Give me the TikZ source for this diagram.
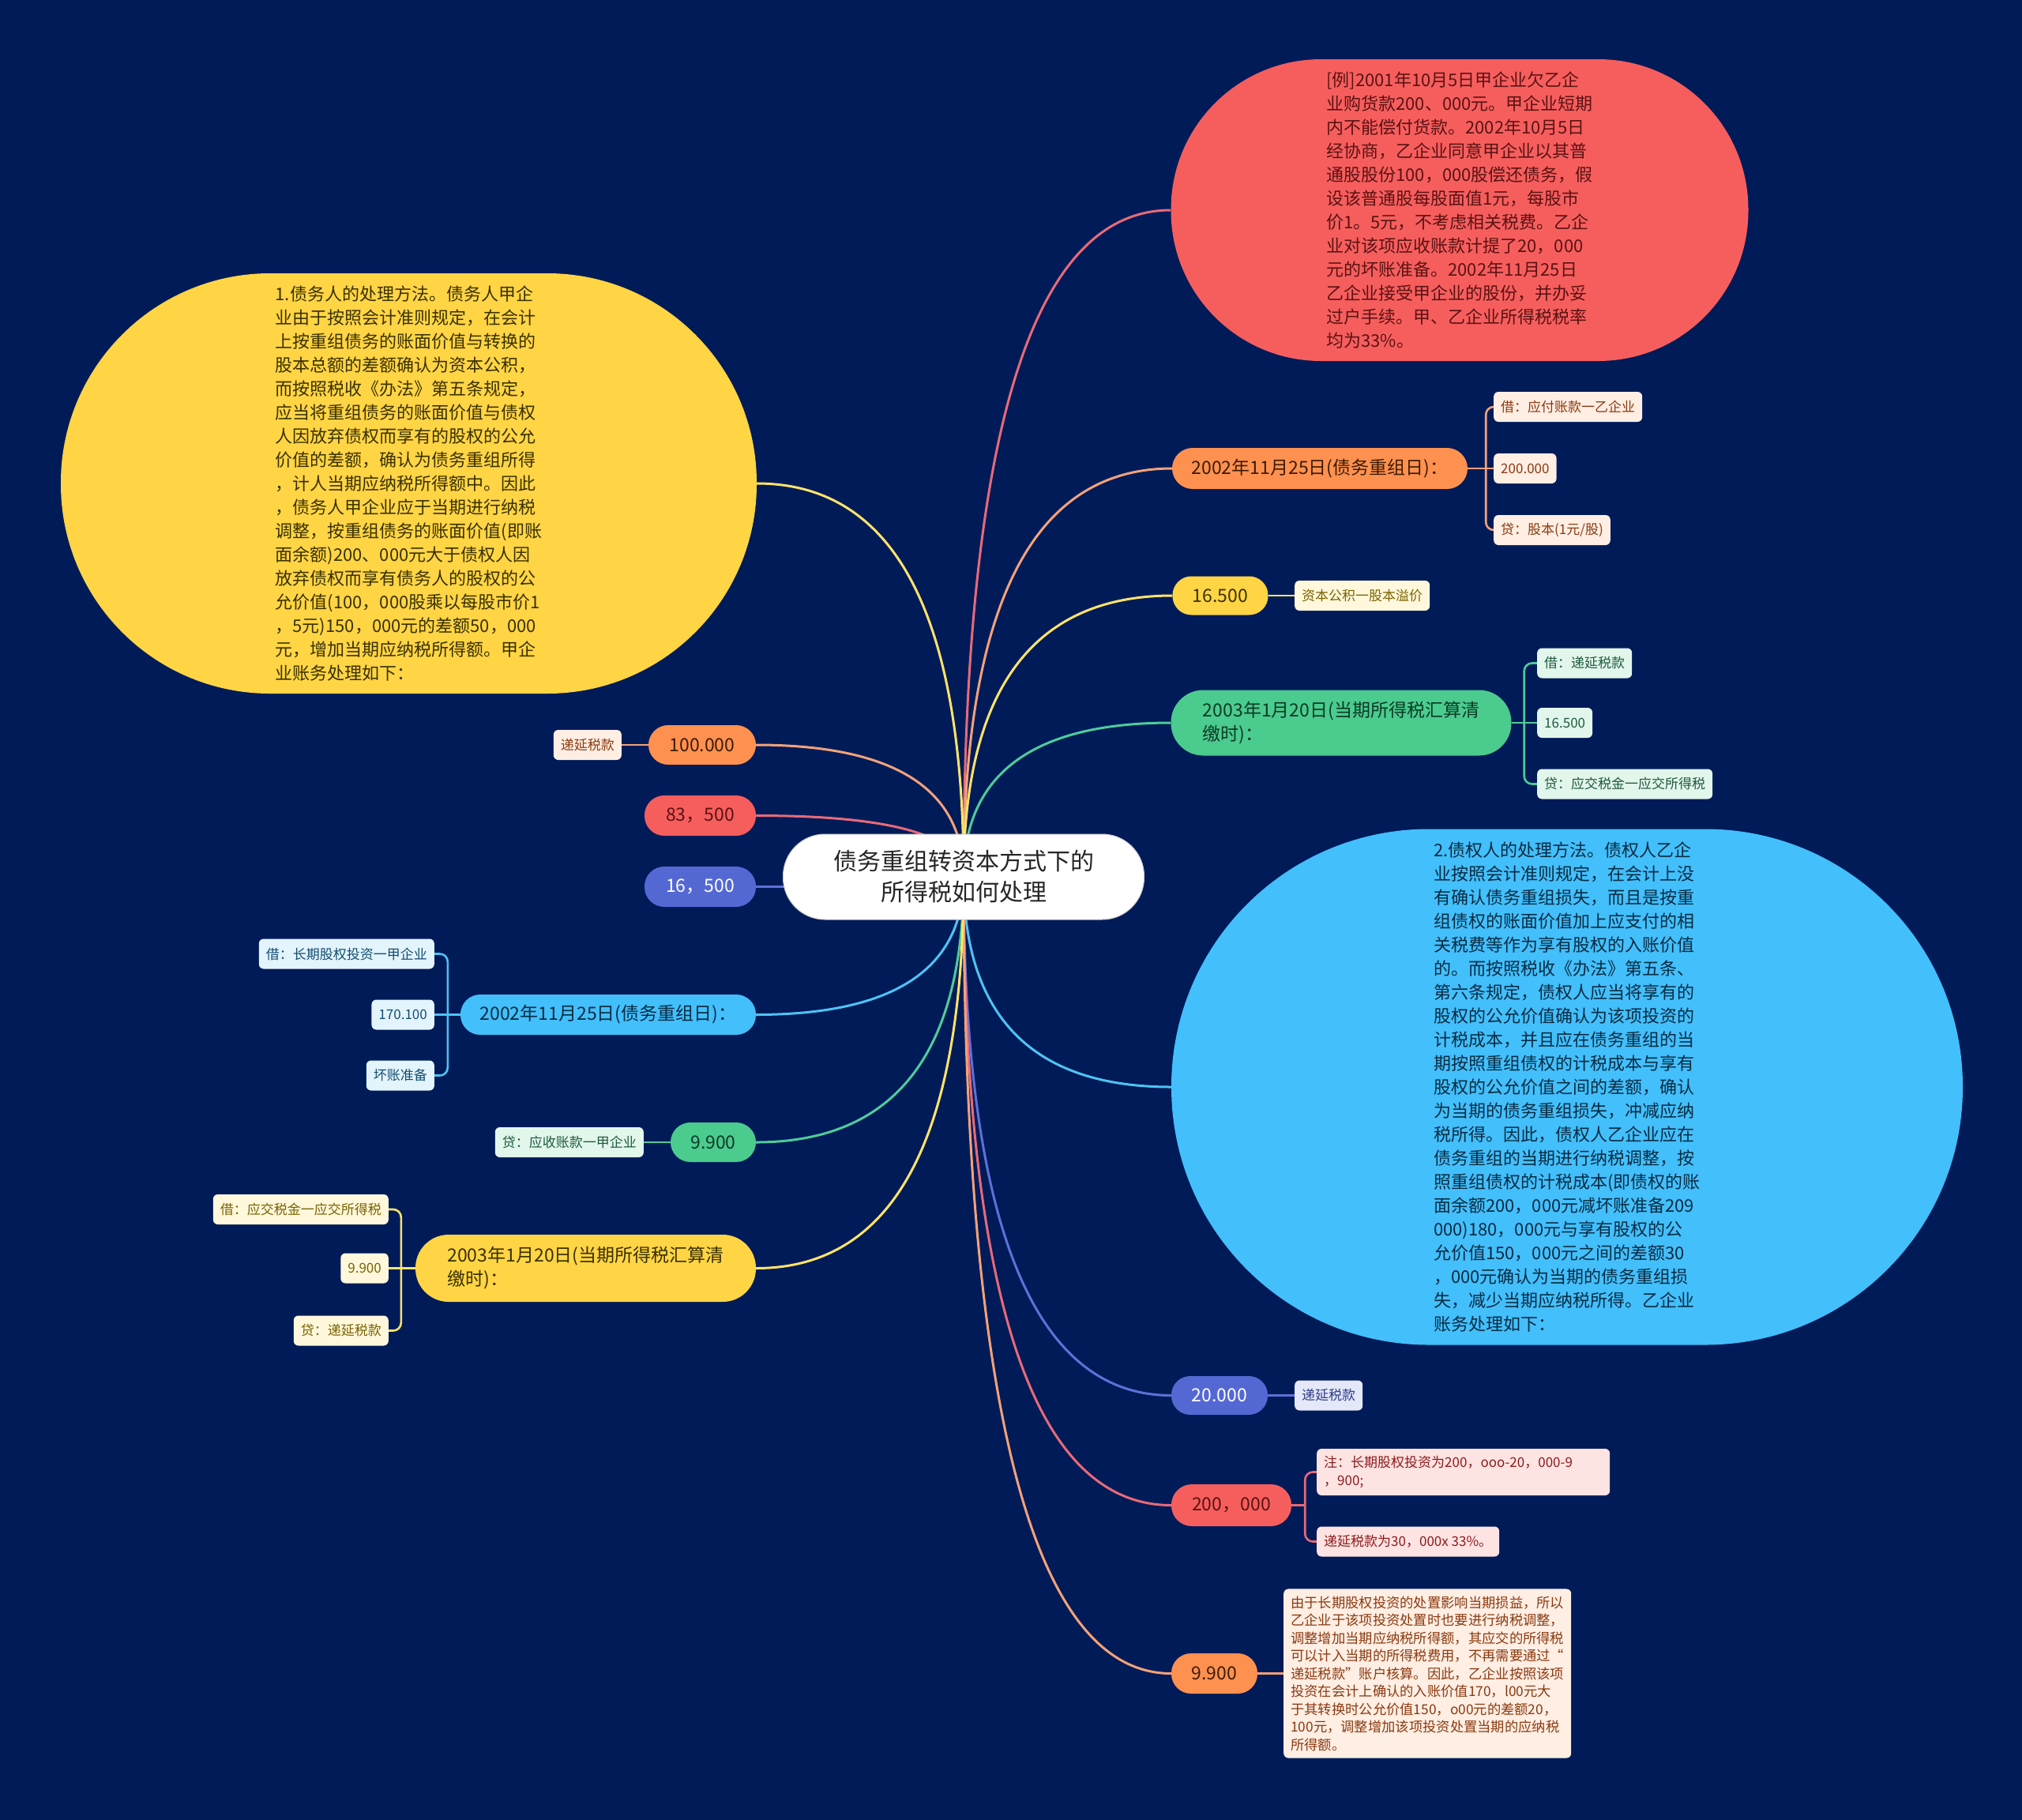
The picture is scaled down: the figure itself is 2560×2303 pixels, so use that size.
\documentclass[tikz,border=0pt]{standalone}
\usepackage{fontspec}
\setmainfont{Noto Sans CJK SC}
\usetikzlibrary{calc,backgrounds}
\definecolor{bg}{HTML}{011B58}
\definecolor{redc}{HTML}{F65E5E}
\definecolor{orangec}{HTML}{FE9150}
\definecolor{yellowc}{HTML}{FFD545}
\definecolor{greenc}{HTML}{4BCB8E}
\definecolor{bluec}{HTML}{43BFFB}
\definecolor{indigoc}{HTML}{5468D4}
\definecolor{redl}{HTML}{E86A78}
\definecolor{orangel}{HTML}{F3A27A}
\definecolor{yellowl}{HTML}{FFE36A}
\definecolor{greenl}{HTML}{4FCB9A}
\definecolor{bluel}{HTML}{4EC3F3}
\definecolor{indigol}{HTML}{5E70D8}
\definecolor{redt}{HTML}{5A1212}
\definecolor{oranget}{HTML}{3D1B06}
\definecolor{yellowt}{HTML}{3A3000}
\definecolor{greent}{HTML}{0C3A25}
\definecolor{bluet}{HTML}{082B42}
\definecolor{orangef}{HTML}{FFEEE3}
\definecolor{orangeft}{HTML}{8A3A10}
\definecolor{yellowf}{HTML}{FFF8DC}
\definecolor{yellowft}{HTML}{7A6200}
\definecolor{greenf}{HTML}{E2F6EC}
\definecolor{greenft}{HTML}{1F5A3D}
\definecolor{bluef}{HTML}{E3F4FD}
\definecolor{blueft}{HTML}{134D70}
\definecolor{indigof}{HTML}{E4E8F8}
\definecolor{indigoft}{HTML}{2E3C88}
\definecolor{redf}{HTML}{FEE3E3}
\definecolor{redft}{HTML}{8E1B1B}
\newcommand\mmconn[2]{\draw[#1] (c.center) .. controls ($(c.center)!0.6667!(c.center|-#2)$) and ($(#2)!0.6667!(c.center|-#2)$) .. (#2);}
\begin{document}
\begin{tikzpicture}[x=1pt,y=-1pt,
  bignode/.style={font={\fontsize{22}{30}\selectfont}, align=left, inner sep=0pt},
  pill/.style={font={\fontsize{23}{30}\selectfont}, align=left, inner sep=0pt},
  leaf/.style={font={\fontsize{17}{22.5}\selectfont}, align=left, inner xsep=9pt, inner ysep=6pt, minimum height=38pt, rounded corners=6pt},
  mline/.style={line width=3pt},
  bline/.style={line width=2.6pt, rounded corners=10pt}]
\useasboundingbox (0,0) rectangle (2560,2303);

% centre
\node[font={\fontsize{30}{39}\selectfont}, align=center, fill=white, draw=gray!40, line width=1pt, text=black!85, minimum width=457pt, minimum height=108pt, rounded corners=53pt, inner sep=0pt] (c) at (1220,1110) {债务重组转资本方式下的\\所得税如何处理};

% right side
\node[bignode, fill=redc, text=redt, minimum width=731pt, minimum height=382pt, rounded corners=190pt] (R1) at (1848,266) {[例]2001年10月5日甲企业欠乙企\\业购货款200、000元。甲企业短期\\内不能偿付货款。2002年10月5日\\经协商，乙企业同意甲企业以其普\\通股股份100，000股偿还债务，假\\设该普通股每股面值1元，每股市\\价1。5元，不考虑相关税费。乙企\\业对该项应收账款计提了20，000\\元的坏账准备。2002年11月25日\\乙企业接受甲企业的股份，并办妥\\过户手续。甲、乙企业所得税税率\\均为33\%。};

\node[pill, fill=orangec, text=oranget, minimum width=374pt, minimum height=52pt, rounded corners=26pt] (R2) at (1671,593) {2002年11月25日(债务重组日)：};
\node[leaf, fill=orangef, text=orangeft, anchor=west] (R2a) at (1891,515) {借：应付账款一乙企业};
\node[leaf, fill=orangef, text=orangeft, anchor=west] (R2b) at (1891,593) {200.000};
\node[leaf, fill=orangef, text=orangeft, anchor=west] (R2c) at (1891,671) {贷：股本(1元/股)};

\node[pill, fill=yellowc, text=yellowt, minimum width=121pt, minimum height=49pt, rounded corners=24pt] (R3) at (1545,754) {16.500};
\node[leaf, fill=yellowf, text=yellowft, anchor=west] (R3a) at (1639,754) {资本公积一股本溢价};

\node[pill, fill=greenc, text=greent, minimum width=431pt, minimum height=83pt, rounded corners=41pt] (R4) at (1698,915) {2003年1月20日(当期所得税汇算清\\缴时)：};
\node[leaf, fill=greenf, text=greenft, anchor=west] (R4a) at (1946,839.5) {借：递延税款};
\node[leaf, fill=greenf, text=greenft, anchor=west] (R4b) at (1946,915) {16.500};
\node[leaf, fill=greenf, text=greenft, anchor=west] (R4c) at (1946,992.5) {贷：应交税金一应交所得税};

\node[bignode, fill=bluec, text=bluet, minimum width=1002pt, minimum height=653pt, rounded corners=326pt] (R5) at (1984,1376) {2.债权人的处理方法。债权人乙企\\业按照会计准则规定，在会计上没\\有确认债务重组损失，而且是按重\\组债权的账面价值加上应支付的相\\关税费等作为享有股权的入账价值\\的。而按照税收《办法》第五条、\\第六条规定，债权人应当将享有的\\股权的公允价值确认为该项投资的\\计税成本，并且应在债务重组的当\\期按照重组债权的计税成本与享有\\股权的公允价值之间的差额，确认\\为当期的债务重组损失，冲减应纳\\税所得。因此，债权人乙企业应在\\债务重组的当期进行纳税调整，按\\照重组债权的计税成本(即债权的账\\面余额200，000元减坏账准备209\\000)180，000元与享有股权的公\\允价值150，000元之间的差额30\\，000元确认为当期的债务重组损\\失，减少当期应纳税所得。乙企业\\账务处理如下：};

\node[pill, fill=indigoc, text=white, minimum width=122pt, minimum height=49pt, rounded corners=24pt] (R6) at (1544,1766.5) {20.000};
\node[leaf, fill=indigof, text=indigoft, anchor=west] (R6a) at (1639,1766.5) {递延税款};

\node[pill, fill=redc, text=redt, minimum width=152pt, minimum height=53pt, rounded corners=26pt] (R7) at (1559,1905.5) {200，000};
\node[leaf, fill=redf, text=redft, anchor=west, minimum height=59pt, text width=353pt] (R7a) at (1667,1863.5) {注：长期股权投资为200，ooo-20，000-9\\，900;};
\node[leaf, fill=redf, text=redft, anchor=west] (R7b) at (1667,1951.5) {递延税款为30，000x 33\%。};

\node[pill, fill=orangec, text=oranget, minimum width=109pt, minimum height=51pt, rounded corners=25pt] (R8) at (1537.5,2118.5) {9.900};
\node[leaf, fill=orangef, text=orangeft, anchor=west, inner ysep=9pt, font={\fontsize{17.3}{22.5}\selectfont}] (R8a) at (1625,2118.5) {由于长期股权投资的处置影响当期损益，所以\\乙企业于该项投资处置时也要进行纳税调整，\\调整增加当期应纳税所得额，其应交的所得税\\可以计入当期的所得税费用，不再需要通过“\\递延税款”账户核算。因此，乙企业按照该项\\投资在会计上确认的入账价值170，l00元大\\于其转换时公允价值150，o00元的差额20，\\100元，调整增加该项投资处置当期的应纳税\\所得额。};

% left side
\node[bignode, fill=yellowc, text=yellowt, minimum width=881pt, minimum height=532pt, rounded corners=265pt] (L1) at (517.5,612) {1.债务人的处理方法。债务人甲企\\业由于按照会计准则规定，在会计\\上按重组债务的账面价值与转换的\\股本总额的差额确认为资本公积，\\而按照税收《办法》第五条规定，\\应当将重组债务的账面价值与债权\\人因放弃债权而享有的股权的公允\\价值的差额，确认为债务重组所得\\，计人当期应纳税所得额中。因此\\，债务人甲企业应于当期进行纳税\\调整，按重组债务的账面价值(即账\\面余额)200、000元大于债权人因\\放弃债权而享有债务人的股权的公\\允价值(100，000股乘以每股市价1\\，5元)150，000元的差额50，000\\元，增加当期应纳税所得额。甲企\\业账务处理如下：};

\node[pill, fill=orangec, text=oranget, minimum width=136pt, minimum height=50pt, rounded corners=25pt] (L2) at (889,943) {100.000};
\node[leaf, fill=orangef, text=orangeft, anchor=east] (L2a) at (787,943) {递延税款};

\node[pill, fill=redc, text=redt, minimum width=141pt, minimum height=51pt, rounded corners=25pt] (L3) at (886.5,1032.5) {83，500};
\node[pill, fill=indigoc, text=white, minimum width=141pt, minimum height=51pt, rounded corners=25pt] (L4) at (886.5,1122.5) {16，500};

\node[pill, fill=bluec, text=bluet, minimum width=374pt, minimum height=51pt, rounded corners=25pt] (L5) at (770,1284.5) {2002年11月25日(债务重组日)：};
\node[leaf, fill=bluef, text=blueft, anchor=east] (L5a) at (550,1207.5) {借：长期股权投资一甲企业};
\node[leaf, fill=bluef, text=blueft, anchor=east] (L5b) at (550,1284.5) {170.100};
\node[leaf, fill=bluef, text=blueft, anchor=east] (L5c) at (550,1361.5) {坏账准备};

\node[pill, fill=greenc, text=greent, minimum width=108pt, minimum height=50pt, rounded corners=25pt] (L6) at (903,1446) {9.900};
\node[leaf, fill=greenf, text=greenft, anchor=east] (L6a) at (815,1446) {贷：应收账款一甲企业};

\node[pill, fill=yellowc, text=yellowt, minimum width=431pt, minimum height=85pt, rounded corners=42pt] (L7) at (741.5,1605.5) {2003年1月20日(当期所得税汇算清\\缴时)：};
\node[leaf, fill=yellowf, text=yellowft, anchor=east] (L7a) at (492,1531) {借：应交税金一应交所得税};
\node[leaf, fill=yellowf, text=yellowft, anchor=east] (L7b) at (492,1605.5) {9.900};
\node[leaf, fill=yellowf, text=yellowft, anchor=east] (L7c) at (492,1684.5) {贷：递延税款};

% junctions
\coordinate (jR2) at ($(R2.east)+(23,0)$);
\coordinate (jR4) at ($(R4.east)+(16,0)$);
\coordinate (jR7) at ($(R7.east)+(17,0)$);
\coordinate (jL5) at ($(L5.west)+(-16,0)$);
\coordinate (jL7) at ($(L7.west)+(-18,0)$);

\begin{pgfonlayer}{background}
\fill[bg] (-20,-20) rectangle (2580,2323);
\mmconn{mline,redl}{R1.west}
\mmconn{mline,orangel}{R2.west}
\mmconn{mline,yellowl}{R3.west}
\mmconn{mline,greenl}{R4.west}
\mmconn{mline,bluel}{R5.west}
\mmconn{mline,indigol}{R6.west}
\mmconn{mline,redl}{R7.west}
\mmconn{mline,orangel}{R8.west}
\mmconn{mline,yellowl}{L1.east}
\mmconn{mline,orangel}{L2.east}
\mmconn{mline,redl}{L3.east}
\draw[mline,indigol] (L4.east) -- (c.center|-L4.east);
\mmconn{mline,bluel}{L5.east}
\mmconn{mline,greenl}{L6.east}
\mmconn{mline,yellowl}{L7.east}
% brackets right
\draw[bline,orangel] (R2.east) -- (R2b.west);
\draw[bline,orangel] (jR2) |- (R2a.west);
\draw[bline,orangel] (jR2) |- (R2c.west);
\draw[bline,yellowl] (R3.east) -- (R3a.west);
\draw[bline,greenl] (R4.east) -- (R4b.west);
\draw[bline,greenl] (jR4) |- (R4a.west);
\draw[bline,greenl] (jR4) |- (R4c.west);
\draw[bline,indigol] (R6.east) -- (R6a.west);
\draw[bline,redl] (R7.east) -- (jR7);
\draw[bline,redl] (jR7) |- (R7a.west);
\draw[bline,redl] (jR7) |- (R7b.west);
\draw[bline,orangel] (R8.east) -- (R8a.west);
% brackets left
\draw[bline,orangel] (L2.west) -- (L2a.east);
\draw[bline,bluel] (L5.west) -- (L5b.east);
\draw[bline,bluel] (jL5) |- (L5a.east);
\draw[bline,bluel] (jL5) |- (L5c.east);
\draw[bline,greenl] (L6.west) -- (L6a.east);
\draw[bline,yellowl] (L7.west) -- (L7b.east);
\draw[bline,yellowl] (jL7) |- (L7a.east);
\draw[bline,yellowl] (jL7) |- (L7c.east);
\end{pgfonlayer}
\end{tikzpicture}
\end{document}
